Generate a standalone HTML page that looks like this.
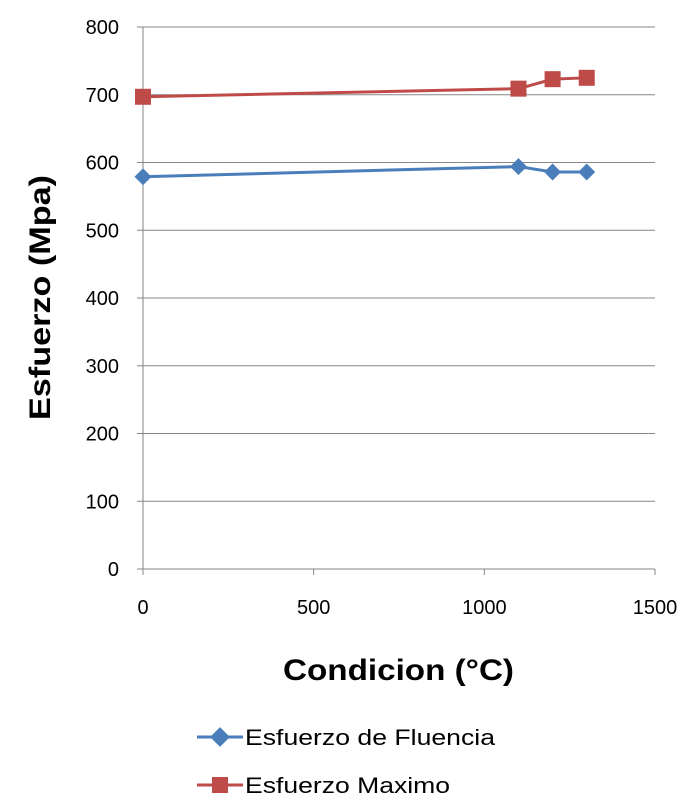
<!DOCTYPE html>
<html><head><meta charset="utf-8"><style>
body{margin:0;background:#fff;}
svg{display:block;font-family:"Liberation Sans",sans-serif;}
</style></head><body>
<svg id="chart" width="693" height="809" viewBox="0 0 693 809">
<g id="grid"></g>
<g id="axes"></g>
<g id="series"></g>
<text x="283" y="680" font-size="30" font-weight="bold" fill="#000" textLength="231" lengthAdjust="spacingAndGlyphs">Condicion (°C)</text>
<text transform="translate(50,420) rotate(-90)" font-size="30" font-weight="bold" fill="#000" textLength="245" lengthAdjust="spacingAndGlyphs">Esfuerzo (Mpa)</text>
<g>
<g>
<line x1="197" y1="737" x2="243" y2="737" stroke="#4a7ebb" stroke-width="3"/>
<rect x="213" y="730" width="14" height="14" fill="#4a7ebb" transform="rotate(45 220 737)"/>
<text x="245" y="745" font-size="22" fill="#000" textLength="250" lengthAdjust="spacingAndGlyphs">Esfuerzo de Fluencia</text>
</g>
<g>
<line x1="197" y1="785" x2="243" y2="785" stroke="#be4b48" stroke-width="3"/>
<rect x="212" y="777" width="16" height="16" fill="#be4b48"/>
<text x="245" y="793" font-size="22" fill="#000" textLength="205" lengthAdjust="spacingAndGlyphs">Esfuerzo Maximo</text>
</g>
</g>
</svg>
<script>
const xValues=[0,1100,1200,1300];
const fluencia=[579,594,586,586];
const maximo=[697,709,723,725];
const yTicks=[0,100,200,300,400,500,600,700,800];
const xTicks=[0,500,1000,1500];
const NS="http://www.w3.org/2000/svg";
const X0=143,X1=655,Y0=569,Y1=27;
const sx=v=>X0+(v-0)/1500*(X1-X0);
const sy=v=>Y0-(v-0)/800*(Y0-Y1);
function mk(tag,attrs,parent){const e=document.createElementNS(NS,tag);for(const k in attrs)e.setAttribute(k,attrs[k]);parent.appendChild(e);return e;}
const grid=document.getElementById('grid'),axes=document.getElementById('axes'),ser=document.getElementById('series');
yTicks.forEach(t=>{
  if(t>0){const l=mk('line',{x1:X0,x2:X1,y1:sy(t),y2:sy(t),stroke:'#868686','stroke-width':1},grid);
  
  }
  mk('line',{x1:X0-6,x2:X0,y1:sy(t),y2:sy(t),stroke:'#868686'},axes);
  const tx=mk('text',{x:119,y:sy(t)+7,'font-size':20,'text-anchor':'end',fill:'#000'},axes);
  tx.textContent=t;
  
  
});
mk('line',{x1:X0,x2:X0,y1:Y1,y2:Y0,stroke:'#868686'},axes);
mk('line',{x1:X0,x2:X1,y1:Y0,y2:Y0,stroke:'#868686'},axes);
xTicks.forEach(t=>{
  mk('line',{x1:sx(t),x2:sx(t),y1:Y0,y2:Y0+6,stroke:'#868686'},axes);
  const tx=mk('text',{x:sx(t),y:614,'font-size':20,'text-anchor':'middle',fill:'#000'},axes);
  tx.textContent=t;
  
  
});
function drawSeries(vals,color,marker,name){
  const pts=xValues.map((x,i)=>sx(x)+','+sy(vals[i])).join(' ');
  const pl=mk('polyline',{points:pts,fill:'none',stroke:color,'stroke-width':3,'stroke-linejoin':'round'},ser);
  
  
  xValues.forEach((x,i)=>{
    const cx=sx(x),cy=sy(vals[i]);let m;
    if(marker==='diamond')m=mk('rect',{x:cx-6,y:cy-6,width:12,height:12,fill:color,transform:`rotate(45 ${cx} ${cy})`},ser);
    else m=mk('rect',{x:cx-8,y:cy-8,width:16,height:16,fill:color},ser);
    
    
  });
}
drawSeries(fluencia,'#4a7ebb','diamond','fluencia');
drawSeries(maximo,'#be4b48','square','maximo');
</script>
</body></html>
